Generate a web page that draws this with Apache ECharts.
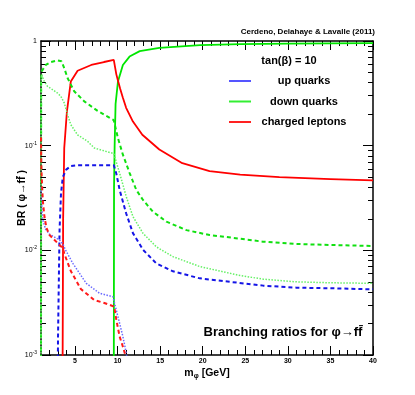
<!DOCTYPE html>
<html>
<head>
<meta charset="utf-8">
<script src="https://cdn.jsdelivr.net/npm/echarts@6/dist/echarts.min.js"></script>
<style>
html, body { margin: 0; padding: 0; background: #fff; }
#main { width: 415px; height: 395px; }
</style>
</head>
<body>
<div id="main"></div>
<script>
// axis ticks / labels
var xMajorTicks = [5, 10, 15, 20, 25, 30, 35, 40];
var yDecades = [0.001, 0.01, 0.1, 1];

// curves : [m_phi (GeV), BR]
var downSolid = [[9.55, 0.0005], [9.58, 0.04], [9.65, 0.1], [9.76, 0.25], [10.04, 0.41], [10.62, 0.59], [11.4, 0.71],
    [12.6, 0.80], [14.9, 0.86], [19.7, 0.915], [24.4, 0.935], [30, 0.945], [40, 0.955]];
var leptonSolid = [[3.53, 0.0005], [3.6, 0.02], [3.73, 0.095], [4.04, 0.21], [4.5, 0.41], [5.3, 0.52], [6.9, 0.59],
    [8.4, 0.63], [9.55, 0.66], [9.85, 0.48], [10.04, 0.42], [10.3, 0.35], [10.6, 0.29], [11.0, 0.23], [11.8, 0.17],
    [12.9, 0.127], [14.9, 0.092], [17.6, 0.068], [20.8, 0.057], [24.4, 0.053], [29, 0.050], [35, 0.048], [40, 0.0465]];
var downDashed = [[1.0, 0.0005], [1.02, 0.4], [1.06, 0.51], [1.56, 0.59], [2.15, 0.63], [2.94, 0.654], [3.41, 0.64],
    [3.73, 0.55], [4.12, 0.443], [4.9, 0.331], [6.08, 0.265], [7.65, 0.215], [9.55, 0.175], [10.04, 0.118],
    [10.62, 0.082], [11.41, 0.0548], [12.2, 0.0377], [12.98, 0.0303], [14.15, 0.0234], [15.73, 0.0188],
    [18.08, 0.0156], [20.8, 0.014], [24.1, 0.013], [27.06, 0.0121], [31.0, 0.0115], [34.9, 0.01125], [40, 0.011]];
var downDotted = [[1.0, 0.0005], [1.02, 0.4], [1.06, 0.477], [1.38, 0.412], [1.76, 0.369], [2.35, 0.343], [2.94, 0.318],
    [3.33, 0.296], [3.73, 0.256], [4.12, 0.198], [4.5, 0.159], [5.29, 0.127], [6.47, 0.110], [7.26, 0.095],
    [8.44, 0.089], [9.55, 0.084], [10.24, 0.0545], [11.02, 0.0325], [11.8, 0.021], [12.98, 0.01455],
    [14.55, 0.0108], [16.5, 0.0087], [19.65, 0.007], [24.15, 0.0058], [27.1, 0.0053], [31.0, 0.0050],
    [34.9, 0.0049], [40, 0.00484]];
var upDashed = [[2.96, 0.0005], [3.0, 0.0015], [3.18, 0.0156], [3.35, 0.035], [3.56, 0.05], [3.96, 0.059], [4.5, 0.064],
    [5.3, 0.065], [9.55, 0.065], [9.85, 0.054], [10.24, 0.0377], [11.0, 0.0226], [11.8, 0.0146], [13.0, 0.0101],
    [14.55, 0.0075], [16.5, 0.0063], [19.65, 0.0054], [24.15, 0.0049], [27.1, 0.0046], [31, 0.0044],
    [35, 0.00434], [40, 0.00424]];
var upDotted = [[1.0, 0.04], [1.12, 0.0243], [1.21, 0.0195], [1.53, 0.016], [2.0, 0.0143], [2.59, 0.0134], [3.18, 0.01255],
    [3.56, 0.0115], [3.88, 0.0101], [4.74, 0.0075], [6.32, 0.00484], [7.88, 0.00389], [9.45, 0.0036], [9.6, 0.0035],
    [10.04, 0.00232], [10.62, 0.0015], [11.02, 0.00104], [11.2, 0.0008]];
var leptonDashed = [[1.0, 0.12], [1.02, 0.078], [1.06, 0.055], [1.21, 0.030], [1.41, 0.0208], [1.65, 0.0163], [2.0, 0.014],
    [2.59, 0.01256], [3.18, 0.01125], [3.56, 0.0105], [3.76, 0.0092], [4.5, 0.00635], [5.68, 0.00427],
    [7.26, 0.00335], [8.44, 0.00314], [9.6, 0.0029], [9.85, 0.00216], [10.24, 0.0015], [10.62, 0.0012],
    [10.9, 0.001], [11.0, 0.0008]];

var FONT = '"Liberation Sans", Arial, Helvetica, sans-serif';
var chart = echarts.init(document.getElementById('main'));

// minor ticks, 1 GeV steps and 2..9 per decade
var xMinorTicks = [];
for (var i = 2; i < 40; i++) {
    if (i % 5 != 0) xMinorTicks.push(i);
}
var yMinorTicks = [];
for (var d = 0; d < 3; d++) {
    for (var k = 2; k <= 9; k++) {
        yMinorTicks.push(+(k * yDecades[d]).toPrecision(3));
    }
}

function curve(name, color, style, data) {
    var ls = { color: color, width: 1.8, type: 'solid' };
    if (style == 'dashed') {
        ls.width = 2;
        ls.type = [4, 3];
    }
    if (style == 'dotted') {
        ls.width = 1.5;
        ls.type = [1.5, 1.5];
    }
    return {
        name: name,
        type: 'line',
        xAxisIndex: 0,
        yAxisIndex: 0,
        symbol: 'none',
        smooth: false,
        clip: true,
        lineStyle: ls,
        itemStyle: { color: color },
        data: data
    };
}

function xAx(pos, ticks, len, showLine, showLabel) {
    return {
        type: 'value',
        position: pos,
        min: 1,
        max: 40,
        axisLine: { show: showLine, onZero: false, lineStyle: { color: '#000', width: 1.5 } },
        axisTick: { show: true, inside: true, length: len, customValues: ticks, lineStyle: { color: '#000', width: 1 } },
        axisLabel: { show: showLabel, customValues: xMajorTicks, fontSize: 7, margin: 3, color: '#000', fontFamily: FONT, fontWeight: 'bold' },
        splitLine: { show: false }
    };
}

function yAx(pos, ticks, len, showLine, showLabel) {
    return {
        type: 'log',
        logBase: 10,
        position: pos,
        min: 0.001,
        max: 1,
        axisLine: { show: showLine, onZero: false, lineStyle: { color: '#000', width: 1.5 } },
        axisTick: { show: true, inside: true, length: len, customValues: ticks, lineStyle: { color: '#000', width: 1 } },
        axisLabel: {
            show: showLabel,
            customValues: yDecades,
            margin: 4,
            color: '#000',
            fontFamily: FONT,
            fontSize: 7,
            lineHeight: 10,
            formatter: function(v) {
                var e = Math.round(Math.log10(v));
                return e == 0 ? '1' : '10{s|' + e + '}';
            },
            rich: {
                s: { fontSize: 5, lineHeight: 5, verticalAlign: 'top', fontFamily: FONT }
            }
        },
        splitLine: { show: false }
    };
}

var option = {
    backgroundColor: '#fff',
    animation: false,
    textStyle: { fontFamily: FONT },
    grid: { left: 41, right: 42, top: 41, bottom: 40, containLabel: false, outerBoundsMode: 'none' },
    xAxis: [
        Object.assign(xAx('bottom', xMajorTicks, 9, true, true), {
            name: 'm{s|φ} [GeV]',
            nameLocation: 'middle',
            nameGap: 11,
            nameMoveOverlap: false,
            nameTextStyle: {
                fontSize: 10.5, fontWeight: 'bold', fontFamily: FONT, color: '#000', lineHeight: 14,
                rich: { s: { fontSize: 7, lineHeight: 8, verticalAlign: 'bottom', fontFamily: FONT } }
            }
        }),
        xAx('bottom', xMinorTicks, 5, false, false),
        xAx('top', xMajorTicks, 9, true, false),
        xAx('top', xMinorTicks, 5, false, false)
    ],
    yAxis: [
        Object.assign(yAx('left', yDecades, 10, true, true), {
            name: 'BR ( φ→ff\u0304 )',
            nameLocation: 'middle',
            nameGap: 13,
            nameMoveOverlap: false,
            nameRotate: 90,
            nameTextStyle: { fontSize: 10.5, fontWeight: 'bold', fontFamily: FONT, color: '#000' }
        }),
        yAx('left', yMinorTicks, 5, false, false),
        yAx('right', yDecades, 10, true, false),
        yAx('right', yMinorTicks, 5, false, false)
    ],
    legend: {
        left: 229,
        top: 74.5,
        padding: 0,
        orient: 'vertical',
        itemWidth: 22,
        itemHeight: 2,
        itemGap: 7.5,
        selectedMode: false,
        icon: 'rect',
        data: [
            { name: 'up quarks', icon: 'rect', itemStyle: { color: '#5555ff' } },
            { name: 'down quarks', icon: 'rect', itemStyle: { color: '#33ee33' } },
            { name: 'charged leptons', icon: 'rect', itemStyle: { color: '#ff2222' } }
        ],
        formatter: function(n) {
            return '{t|' + n + '}';
        },
        textStyle: {
            rich: { t: { width: 96, height: 13, lineHeight: 13, align: 'center', fontSize: 11, fontWeight: 'bold', fontFamily: FONT, color: '#000' } }
        }
    },
    graphic: [{
        type: 'text',
        x: 375,
        y: 32,
        style: { text: 'Cerdeno, Delahaye & Lavalle (2011)', font: 'bold 8px ' + FONT, fill: '#000', textAlign: 'right', textVerticalAlign: 'middle', align: 'right', verticalAlign: 'middle' }
    }, {
        type: 'text',
        x: 289,
        y: 61,
        style: { text: 'tan(β) = 10', font: 'bold 11px ' + FONT, fill: '#000', textAlign: 'center', textVerticalAlign: 'middle', align: 'center', verticalAlign: 'middle' }
    }, {
        type: 'text',
        x: 283,
        y: 332,
        style: { text: 'Branching ratios for φ→ff\u0304', font: 'bold 13px ' + FONT, fill: '#000', textAlign: 'center', textVerticalAlign: 'middle', align: 'center', verticalAlign: 'middle' }
    }],
    series: [
        curve('down quarks', '#00e600', 'solid', downSolid),
        curve('charged leptons', '#ff0000', 'solid', leptonSolid),
        curve('down quarks', '#10e010', 'dashed', downDashed),
        curve('down quarks', '#66f066', 'dotted', downDotted),
        curve('up quarks', '#1515e6', 'dashed', upDashed),
        curve('up quarks', '#6a6aff', 'dotted', upDotted),
        curve('charged leptons', '#ff1a1a', 'dashed', leptonDashed)
    ]
};

chart.setOption(option);
</script>
</body>
</html>
